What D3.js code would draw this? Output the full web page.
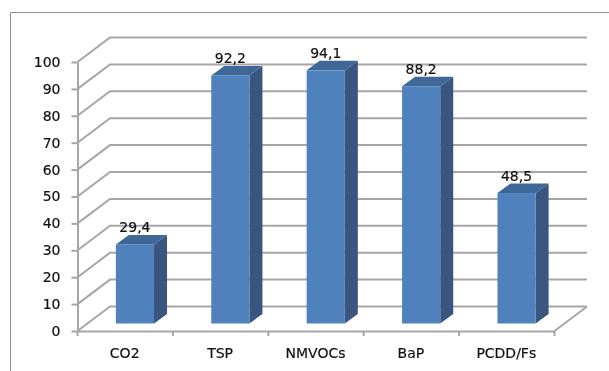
<!DOCTYPE html>
<html>
<head>
<meta charset="utf-8">
<script src="https://cdn.jsdelivr.net/npm/d3@7"></script>
<style>
  html, body { margin: 0; padding: 0; background: #fff; }
  svg { display: block; filter: blur(0.35px); }
  text { font-family: "DejaVu Sans", sans-serif; fill: #111; stroke: #111; stroke-width: 0.2px; }
</style>
</head>
<body>
<div id="chart"></div>
<script>
const categories = ["CO2", "TSP", "NMVOCs", "BaP", "PCDD/Fs"];
const values = [29.4, 92.2, 94.1, 88.2, 48.5];
const valueLabels = ["29,4", "92,2", "94,1", "88,2", "48,5"];
const yTicks = [0, 10, 20, 30, 40, 50, 60, 70, 80, 90, 100];

const width = 609, height = 371;
const plotLeft = 77.5, plotRight = 554.5, plotTop = 62, plotBottom = 331;
// 3d offsets: whole floor, and one bar
const depthX = 32.5, depthY = 24.5;
const barDepthX = 13, barDepthY = 9.5;
const gridColor = "#a6a6a6";

const svg = d3.select("#chart").append("svg")
  .attr("width", width)
  .attr("height", height);

// picture frame, only left and top show
svg.append("path")
  .attr("d", "M10.5,371V12.5H609")
  .attr("fill", "none")
  .attr("stroke", "#8c8c8c")
  .attr("stroke-width", 1);

const x = d3.scaleBand()
  .domain(categories)
  .range([plotLeft, plotRight])
  .paddingInner(0.6)
  .paddingOuter(0.3);

const y = d3.scaleLinear()
  .domain([0, 100])
  .range([plotBottom, plotTop]);

// wall gridlines
svg.append("g").selectAll("path")
  .data(yTicks)
  .enter().append("path")
  .attr("d", d => `M${plotLeft},${y(d)}l${depthX},${-depthY}H${plotRight + depthX}`)
  .attr("fill", "none")
  .attr("stroke", gridColor)
  .attr("stroke-width", 2);

// floor right edge
svg.append("path")
  .attr("d", `M${plotRight},${plotBottom}l${depthX},${-depthY}`)
  .attr("fill", "none")
  .attr("stroke", gridColor)
  .attr("stroke-width", 2);

const yAxis = d3.axisLeft(y).tickValues(yTicks).tickSize(6).tickPadding(11).tickSizeOuter(0);
const xAxis = d3.axisBottom(x).tickValues([]).tickSizeOuter(0);

const gy = svg.append("g").attr("transform", `translate(${plotLeft},0)`).call(yAxis);
const gx = svg.append("g").attr("transform", `translate(0,${plotBottom})`).call(xAxis);

// ticks sit between the categories
gx.selectAll(".sep")
  .data(d3.range(categories.length + 1))
  .enter().append("line")
  .attr("class", "sep")
  .attr("x1", i => plotLeft + i * x.step())
  .attr("x2", i => plotLeft + i * x.step())
  .attr("y1", 0)
  .attr("y2", 5);

gx.selectAll(".cat")
  .data(categories)
  .enter().append("text")
  .attr("class", "cat")
  .attr("x", d => x(d) + x.bandwidth() / 2 - 0.5)
  .attr("y", 27)
  .attr("text-anchor", "middle")
  .attr("font-size", 14)
  .text(d => d);

gy.selectAll(".tick text")
  .attr("font-size", 14);

[gx, gy].forEach(g => {
  g.selectAll(".domain, .tick line, .sep")
    .attr("stroke", gridColor)
    .attr("stroke-width", 2);
});

// bars stand in the middle of the floor depth
const offX = (depthX - barDepthX) / 2;
const offY = (depthY - barDepthY) / 2;

const bars = svg.append("g").selectAll("g")
  .data(values)
  .enter().append("g")
  .attr("transform", `translate(${offX},${-offY})`);

// side
bars.append("path")
  .attr("fill", "#3a5680")
  .attr("d", (d, i) => {
    const bx = x(categories[i]) + x.bandwidth();
    return `M${bx},${y(0)}l${barDepthX},${-barDepthY}V${y(d) - barDepthY}l${-barDepthX},${barDepthY}Z`;
  });

// top
bars.append("path")
  .attr("fill", "#3f6797")
  .attr("d", (d, i) => {
    const bx = x(categories[i]);
    return `M${bx},${y(d)}l${barDepthX},${-barDepthY}h${x.bandwidth()}l${-barDepthX},${barDepthY}Z`;
  });

// front
bars.append("rect")
  .attr("fill", "#4f81bd")
  .attr("x", (d, i) => x(categories[i]))
  .attr("y", d => y(d))
  .attr("width", x.bandwidth())
  .attr("height", d => y(0) - y(d));

bars.append("text")
  .attr("x", (d, i) => x(categories[i]) + x.bandwidth() / 2)
  .attr("y", d => y(d) - 12)
  .attr("text-anchor", "middle")
  .attr("font-size", 14)
  .text((d, i) => valueLabels[i]);
</script>
</body>
</html>
